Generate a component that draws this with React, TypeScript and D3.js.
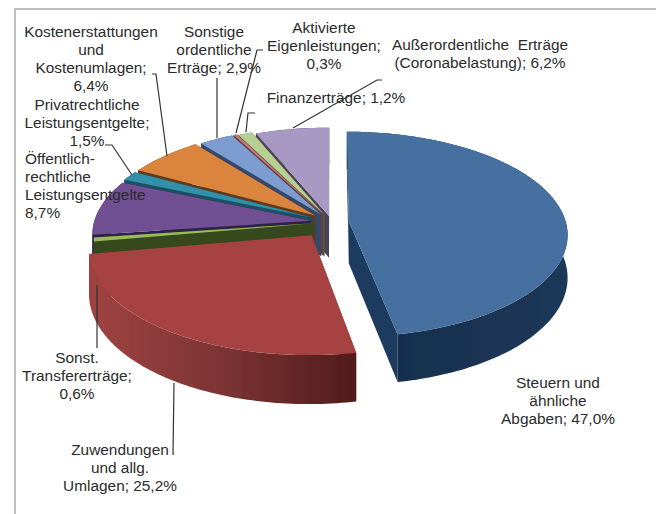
import * as d3 from "d3";

const CATEGORIES = [
	"Steuern und ähnliche Abgaben",
	"Zuwendungen und allg. Umlagen",
	"Sonst. Transfererträge",
	"Öffentlich-rechtliche Leistungsentgelte",
	"Privatrechtliche Leistungsentgelte",
	"Kostenerstattungen und Kostenumlagen",
	"Sonstige ordentliche Erträge",
	"Aktivierte Eigenleistungen",
	"Finanzerträge",
	"Außerordentliche Erträge (Coronabelastung)",
];
const VALUES = [47.0, 25.2, 0.6, 8.7, 1.5, 6.4, 2.9, 0.3, 1.2, 6.2];
const EXPLODE = [0.08, 0.158, 0.085, 0.095, 0.1, 0.1, 0.09, 0.09, 0.08, 0.06];
const TOP_COLORS = ["#44709f", "#a64343", "#9bbb59", "#6f4f92", "#3090ab", "#db843d", "#7d9ccf", "#c9797a", "#b5d090", "#a898c4"];
const WALL_COLORS = ["#1c3a5e", "#6d2b2b", "#34491c", "#2e2346", "#1d5062", "#5e3a1c", "#34486a", "#6e3a3a", "#4f5a48", "#4b4358"];

// back slices first, the two big ones go on top
const DRAW_ORDER = [9, 8, 7, 6, 5, 4, 3, 2, 1, 0];

const LABELS: { lines: string[]; x: number; y: number; anchor?: string }[] = [
	{ lines: ["Steuern und", "ähnliche", "Abgaben; 47,0%"], x: 558, y: 388 },
	{ lines: ["Zuwendungen", "und allg.", "Umlagen; 25,2%"], x: 120, y: 455 },
	{ lines: ["Sonst.", "Transfererträge;", "0,6%"], x: 77, y: 363 },
	{ lines: ["Öffentlich-", "rechtliche", "Leistungsentgelte", "8,7%"], x: 25, y: 164, anchor: "start" },
	{ lines: ["Privatrechtliche", "Leistungsentgelte;", "1,5%"], x: 87, y: 110 },
	{ lines: ["Kostenerstattungen", "und", "Kostenumlagen;", "6,4%"], x: 91, y: 37 },
	{ lines: ["Sonstige", "ordentliche", "Erträge; 2,9%"], x: 214, y: 37 },
	{ lines: ["Aktivierte", "Eigenleistungen;", "0,3%"], x: 324, y: 33 },
	{ lines: ["Finanzerträge; 1,2%"], x: 336, y: 103 },
	{ lines: ["Außerordentliche  Erträge", "(Coronabelastung); 6,2%"], x: 480, y: 50 },
];

const LEADERS: [number, number][][] = [
	[[173, 455], [174, 383]],
	[[97, 348], [97, 285]],
	[[105, 145], [112, 145], [132, 175]],
	[[152, 74], [156, 74], [167, 156]],
	[[217, 78], [217, 138]],
	[[263, 50], [257, 50], [236, 133]],
	[[255, 113], [248, 113], [246, 132]],
	[[382, 80], [377, 80], [293, 128]],
];

const WIDTH = 656;
const HEIGHT = 514;
const CX = 331.5;
const CY = 222;
const RX = 217;
const RY = 101;
const PERSP = 0.126;
const DEPTH = 42;

function project(X: number, Y: number, Z: number): [number, number] {
	const w = 1 / (1 + PERSP * Y);
	return [CX + RX * X * w, CY - RY * Y * w + DEPTH * Z * w];
}

const line = d3.line();
const pie = d3.pie<number>().sort(null);
const arcs = pie(VALUES);

function samples(a0: number, a1: number) {
	const n = Math.max(2, Math.ceil((a1 - a0) / 0.02));
	return d3.range(n + 1).map((i) => a0 + ((a1 - a0) * i) / n);
}

function slicePaths(i: number) {
	const { startAngle: a0, endAngle: a1 } = arcs[i];
	const mid = (a0 + a1) / 2;
	const ex = EXPLODE[i] * Math.sin(mid);
	const ey = EXPLODE[i] * Math.cos(mid);
	const rim = (a: number, z: number) => project(ex + Math.sin(a), ey + Math.cos(a), z);
	const apex = (z: number) => project(ex, ey, z);
	const angles = samples(a0, a1);
	const top = line([apex(0), ...angles.map((a) => rim(a, 0))]) + "Z";
	const outer = line([...angles.map((a) => rim(a, 0)), ...angles.slice().reverse().map((a) => rim(a, 1))]) + "Z";
	const startWall = line([apex(0), rim(a0, 0), rim(a0, 1), apex(1)]) + "Z";
	const endWall = line([apex(0), rim(a1, 0), rim(a1, 1), apex(1)]) + "Z";
	return { top, outer, startWall, endWall };
}

export default function App() {
	return (
		<svg
			width={WIDTH}
			height={HEIGHT}
			style={{ position: "absolute", left: 0, top: 0, background: "#fff" }}
			fontFamily="'Liberation Sans', Arial, sans-serif"
		>
			<defs>
				<filter id="soft" x="-5%" y="-5%" width="110%" height="110%">
					<feGaussianBlur stdDeviation="0.6" />
				</filter>
				<linearGradient id="wall1" gradientUnits="userSpaceOnUse" x1="90" y1="0" x2="356" y2="0">
					<stop offset="0" stopColor="#a04343" />
					<stop offset="0.5" stopColor="#7c3333" />
					<stop offset="1" stopColor="#511c1c" />
				</linearGradient>
				<linearGradient id="wall0" gradientUnits="userSpaceOnUse" x1="398" y1="0" x2="566" y2="0">
					<stop offset="0" stopColor="#182f4e" />
					<stop offset="1" stopColor="#1c3859" />
				</linearGradient>
			</defs>
			<path d="M15,514V9H656" fill="none" stroke="#bdbdbd" strokeWidth={2} />
			<g filter="url(#soft)">
				{DRAW_ORDER.map((i) => {
					const p = slicePaths(i);
					const wall = i < 2 ? `url(#wall${i})` : WALL_COLORS[i];
					return (
						<g key={CATEGORIES[i]}>
							<path d={p.startWall} fill={WALL_COLORS[i]} />
							<path d={p.endWall} fill={WALL_COLORS[i]} />
							<path d={p.outer} fill={wall} />
							<path d={p.top} fill={TOP_COLORS[i]} />
						</g>
					);
				})}
				{LEADERS.map((pts, i) => (
					<path key={i} d={line(pts) ?? ""} fill="none" stroke="#333" strokeWidth={1.2} />
				))}
			</g>
			{LABELS.map((l) => (
				<text
					key={l.lines[0]}
					textAnchor={l.anchor ?? "middle"}
					fontSize={15.4}
					fill="#2b2b2b"
				>
					{l.lines.map((t, j) => (
						<tspan key={j} x={l.x} y={l.y + j * 18.1} style={{ whiteSpace: "pre" }}>
							{t}
						</tspan>
					))}
				</text>
			))}
		</svg>
	);
}
